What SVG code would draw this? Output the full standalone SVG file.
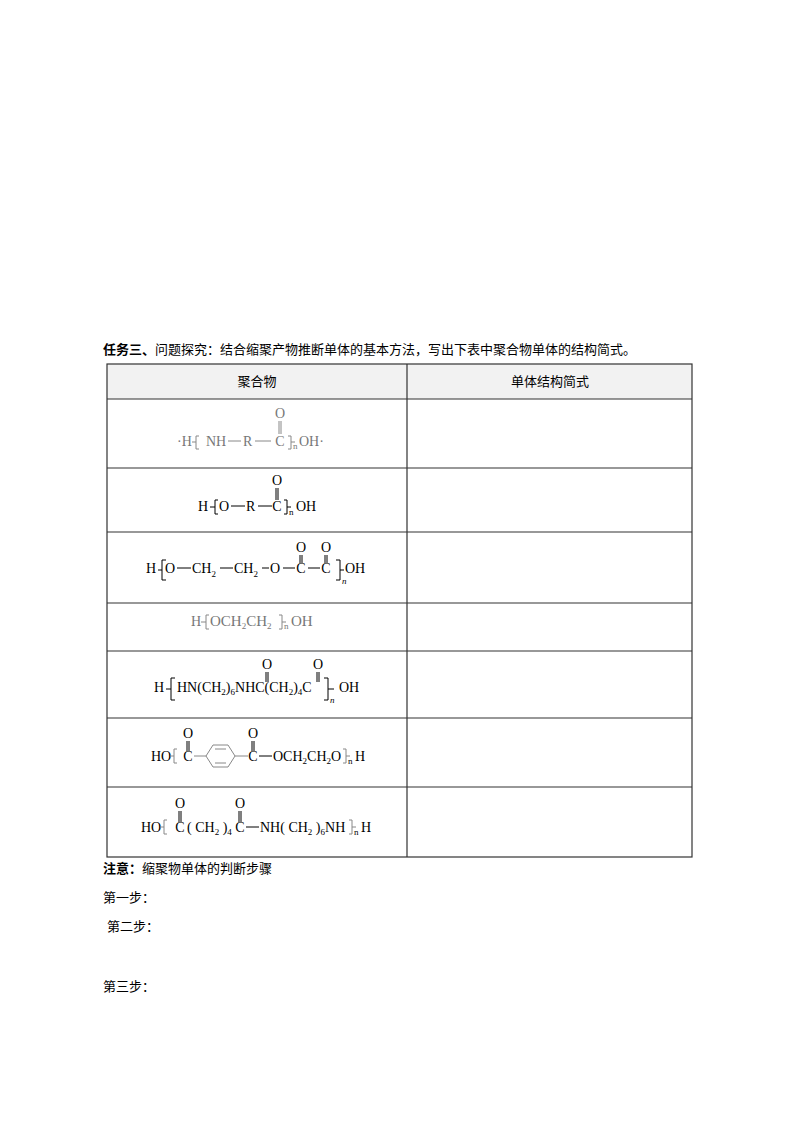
<svg xmlns="http://www.w3.org/2000/svg" width="800" height="1132" viewBox="0 0 800 1132">
<style>
.t{font-family:"Liberation Serif","Noto Sans CJK SC",serif;font-size:14px;fill:#000}
.cj{font-family:"Liberation Serif","Noto Sans CJK SC",serif;font-size:13px;fill:#000}
.g{fill:#777}
.b{stroke:#000;stroke-width:1;fill:none}
.bg{stroke:#888;stroke-width:1;fill:none}
.s{font-size:9px}
.grid{stroke:#333;stroke-width:1.2;fill:none}
</style>
<rect width="800" height="1132" fill="#fff"/>
<text class="cj" x="103" y="354"><tspan font-weight="bold">任务三、</tspan>问题探究：结合缩聚产物推断单体的基本方法，写出下表中聚合物单体的结构简式。</text>
<g id="table">
<rect x="107" y="364" width="585" height="35" fill="#f2f2f2"/>
<rect class="grid" x="107" y="364" width="585" height="493"/>
<g class="grid"><path d="M407 364V857M107 399H692M107 468H692M107 532H692M107 603H692M107 651H692M107 718H692M107 787H692"/></g>
<text class="cj" x="257" y="386" text-anchor="middle">聚合物</text>
<text class="cj" x="550" y="386" text-anchor="middle">单体结构简式</text>
</g>
<g id="r1" class="t g">
<text x="177" y="446">·H</text>
<path class="bg" d="M196 436V449M196 442H192M196 436H199M196 449H199"/>
<text x="206" y="446">NH</text><path class="bg" d="M228 441H241"/>
<text x="243" y="446">R</text><path class="bg" d="M255 441H271"/>
<text x="280" y="446" text-anchor="middle">C</text>
<text x="280" y="418" text-anchor="middle">O</text><path class="bg" d="M279 421V434M281 421V434"/>
<path class="bg" d="M291 436V449M291 442H295M291 436H288M291 449H288"/>
<text x="293" y="449" class="s">n</text><text x="299" y="446">OH·</text>
</g>
<g id="r2" class="t">
<text x="198" y="511">H</text>
<path class="b" d="M215 500V514M215 507H210M215 500H218M215 514H218"/>
<text x="219" y="511">O</text><path class="b" d="M231 506H245"/>
<text x="246" y="511">R</text><path class="b" d="M258 506H272"/>
<text x="277" y="511" text-anchor="middle">C</text>
<text x="277" y="485" text-anchor="middle">O</text><path class="b" d="M276 488V500M278 488V500"/>
<path class="b" d="M287 500V514M287 507H291M287 500H284M287 514H284"/>
<text x="289" y="515" class="s">n</text><text x="296" y="511">OH</text>
</g>
<g id="r3" class="t">
<text x="146" y="573">H</text>
<path class="b" d="M162 560V580M162 570H158M162 560H166M162 580H166"/>
<text x="165" y="573">O</text><path class="b" d="M177 568H191"/>
<text x="192" y="573">CH<tspan class="s" dy="4">2</tspan></text><path class="b" d="M220 568H233"/>
<text x="234" y="573">CH<tspan class="s" dy="4">2</tspan></text><path class="b" d="M262 568H269"/>
<text x="270" y="573">O</text><path class="b" d="M283 568H295"/>
<text x="301" y="573" text-anchor="middle">C</text>
<text x="301" y="552" text-anchor="middle">O</text><path class="b" d="M300 555V563M302 555V563"/>
<path class="b" d="M308 568H320"/>
<text x="326" y="573" text-anchor="middle">C</text>
<text x="326" y="552" text-anchor="middle">O</text><path class="b" d="M325 555V563M327 555V563"/>
<path class="b" d="M340 560V580M340 570H344M340 560H336M340 580H336"/>
<text x="342" y="584" class="s" font-style="italic">n</text><text x="345" y="573">OH</text>
</g>
<g id="r4" class="t g">
<text x="191" y="626">H</text>
<path class="bg" d="M206 615V629M206 622H201M206 615H209M206 629H209"/>
<text x="210" y="626" font-size="15">OCH<tspan class="s" dy="3">2</tspan><tspan dy="-3">CH</tspan><tspan class="s" dy="3">2</tspan></text>
<path class="bg" d="M282 615V629M282 622H286M282 615H279M282 629H279"/>
<text x="284" y="629" class="s">n</text><text x="291" y="626" font-size="15">OH</text>
</g>
<g id="r5" class="t" font-size="15">
<text x="154" y="692">H</text>
<path class="b" d="M171 678V700M171 689H166M171 678H175M171 700H175" stroke-width="1.4"/>
<text x="177" y="692">HN(CH<tspan class="s" dy="3">2</tspan><tspan dy="-3">)</tspan><tspan class="s" dy="3">6</tspan><tspan dy="-3">NHC(CH</tspan><tspan class="s" dy="3">2</tspan><tspan dy="-3">)</tspan><tspan class="s" dy="3">4</tspan><tspan dy="-3">C</tspan></text>
<text x="267" y="669" text-anchor="middle">O</text><path class="b" d="M266 672V682M268 672V682"/>
<text x="318" y="669" text-anchor="middle">O</text><path class="b" d="M317 672V682M319 672V682"/>
<path class="b" d="M328 678V700M328 689H334M328 678H324M328 700H324" stroke-width="1.4"/>
<text x="330" y="703" class="s" font-style="italic" font-size="11">n</text><text x="339" y="692">OH</text>
</g>
<g id="r6" class="t">
<text x="151" y="761">HO</text>
<path class="bg" d="M174 749V763M174 756H170M174 749H177M174 763H177"/>
<text x="188" y="761" text-anchor="middle">C</text>
<text x="188" y="738" text-anchor="middle">O</text><path class="b" d="M187 741V751M189 741V751"/>
<path class="bg" d="M194 756H206"/>
<path class="bg" d="M206 756L213 745H228L235 756L228 767H213Z M215 749H226M215 763H226"/>
<path class="bg" d="M235 756H248"/>
<text x="253" y="761" text-anchor="middle">C</text>
<text x="253" y="738" text-anchor="middle">O</text><path class="b" d="M252 741V751M254 741V751"/>
<path class="b" d="M259 756H272"/>
<text x="273" y="761">OCH<tspan class="s" dy="3">2</tspan><tspan dy="-3">CH</tspan><tspan class="s" dy="3">2</tspan><tspan dy="-3">O</tspan></text>
<path class="bg" d="M346 749V763M346 756H350M346 749H343M346 763H343"/>
<text x="348" y="764" class="s">n</text><text x="355" y="761">H</text>
</g>
<g id="r7" class="t">
<text x="141" y="832">HO</text>
<path class="bg" d="M164 820V834M164 827H160M164 820H167M164 834H167"/>
<text x="180" y="832" text-anchor="middle">C</text>
<text x="180" y="808" text-anchor="middle">O</text><path class="b" d="M179 811V822M181 811V822"/>
<text x="187" y="832">( CH<tspan class="s" dy="3">2</tspan><tspan dy="-3"> )</tspan><tspan class="s" dy="3">4</tspan></text>
<text x="240" y="832" text-anchor="middle">C</text>
<text x="240" y="808" text-anchor="middle">O</text><path class="b" d="M239 811V822M241 811V822"/>
<path class="b" d="M246 827H259"/>
<text x="260" y="832">NH( CH<tspan class="s" dy="3">2</tspan><tspan dy="-3"> )</tspan><tspan class="s" dy="3">6</tspan><tspan dy="-3">NH</tspan></text>
<path class="bg" d="M352 820V834M352 827H356M352 820H349M352 834H349"/>
<text x="354" y="835" class="s">n</text><text x="361" y="832">H</text>
</g>
<g id="notes" class="cj">
<text x="103" y="873"><tspan font-weight="bold">注意：</tspan>缩聚物单体的判断步骤</text>
<text x="103" y="902">第一步：</text>
<text x="107" y="931">第二步：</text>
<text x="103" y="991">第三步：</text>
</g>
</svg>
